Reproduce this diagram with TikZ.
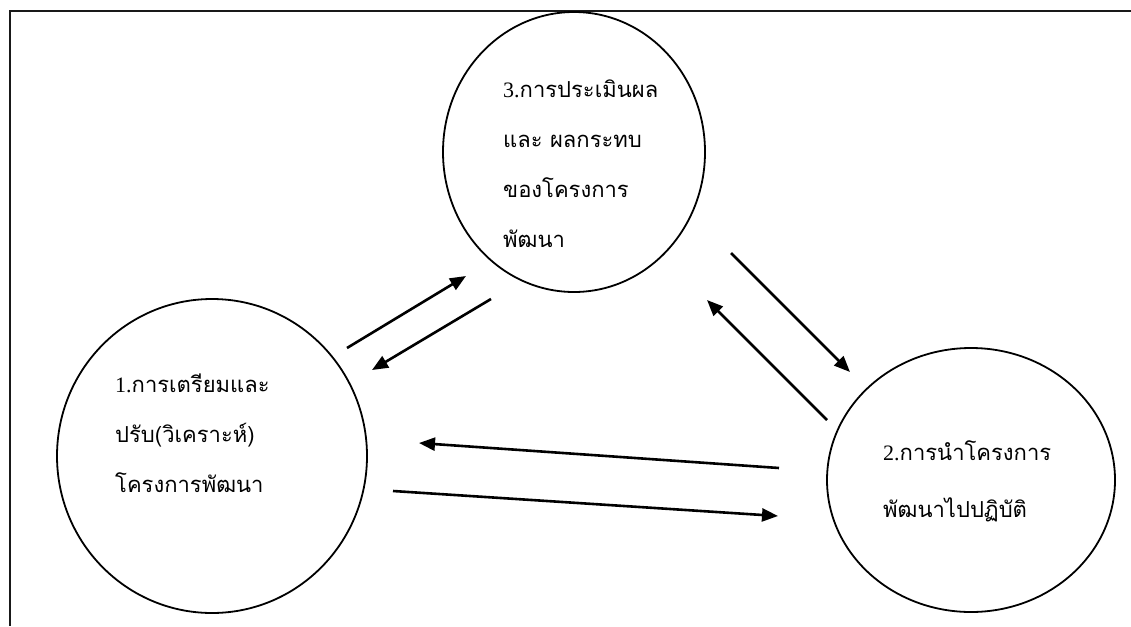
\documentclass[tikz,border=0pt]{standalone}
\usepackage{fontspec}
\setmainfont{Liberation Serif}
\newfontfamily\thaifont[Script=Thai]{Loma}
\usetikzlibrary{arrows.meta, shapes.geometric}
\tikzset{
  phase/.style={
    ellipse,
    draw=black,
    line width=1.8pt,
    inner sep=0pt
  },
  phase text/.style={
    anchor=west,
    align=left,
    inner sep=0pt,
    font=\fontsize{22}{50}\selectfont\thaifont
  },
  cycle arrow/.style={
    -{Triangle[length=16pt, width=13pt]},
    line width=2.6pt
  },
  frame line/.style={line width=2.2pt, draw=black!90}
}
\begin{document}
\begin{tikzpicture}[x=1pt, y=-1pt]
  \useasboundingbox (0,0) rectangle (1131,626);
  \draw[frame line] (1131,11) -- (10,11) -- (10,626);

  % the three phases
  \node[phase, minimum width=310pt, minimum height=314pt] (prep) at (212,456) {};
  \node[phase, minimum width=262pt, minimum height=280pt] (eval) at (574,152) {};
  \node[phase, minimum width=288pt, minimum height=264pt] (impl) at (971,480) {};

  \node[phase text] (prep text) at (115,433)
    {{\rmfamily 1.}การเตรียมและ\\ปรับ(วิเคราะห์)\\โครงการพัฒนา};
  \node[phase text] (eval text) at (503,164)
    {{\rmfamily 3.}การประเมินผล\\และ ผลกระทบ\\ของโครงการ\\พัฒนา};
  \node[phase text, font=\fontsize{22}{57}\selectfont\thaifont] (impl text) at (883,481)
    {{\rmfamily 2.}การนำโครงการ\\พัฒนาไปปฏิบัติ};

  % arrow ends
  \coordinate (prep-eval s) at (347,348);
  \coordinate (prep-eval e) at (466,276);
  \coordinate (eval-prep s) at (491,299);
  \coordinate (eval-prep e) at (372,370);
  \coordinate (eval-impl s) at (731,253);
  \coordinate (eval-impl e) at (850,372);
  \coordinate (impl-eval s) at (827,420);
  \coordinate (impl-eval e) at (707,300);
  \coordinate (impl-prep s) at (779,468);
  \coordinate (impl-prep e) at (419,443);
  \coordinate (prep-impl s) at (393,491);
  \coordinate (prep-impl e) at (778,516);

  \draw[cycle arrow] (prep-eval s) -- (prep-eval e);
  \draw[cycle arrow] (eval-prep s) -- (eval-prep e);
  \draw[cycle arrow] (eval-impl s) -- (eval-impl e);
  \draw[cycle arrow] (impl-eval s) -- (impl-eval e);
  \draw[cycle arrow] (impl-prep s) -- (impl-prep e);
  \draw[cycle arrow] (prep-impl s) -- (prep-impl e);
\end{tikzpicture}
\end{document}
